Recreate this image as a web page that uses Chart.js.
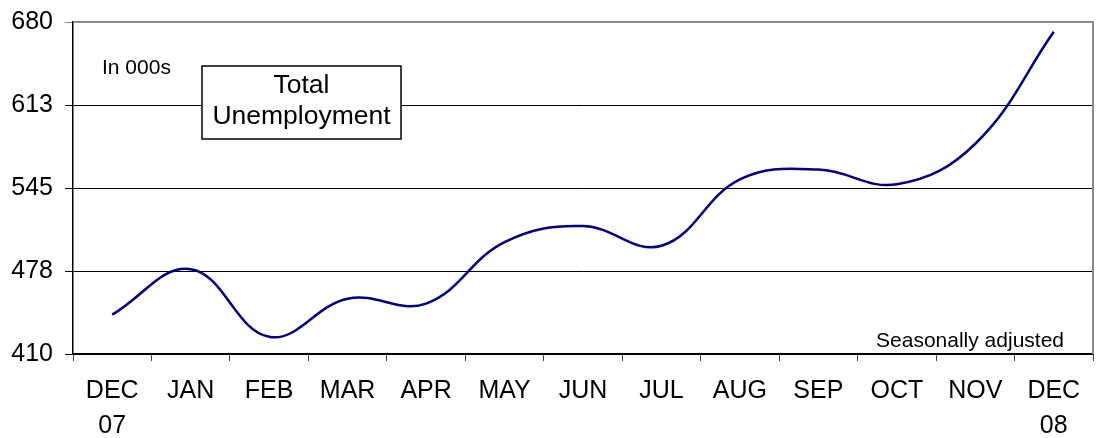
<!DOCTYPE html>
<html>
<head>
<meta charset="utf-8">
<script src="https://cdn.jsdelivr.net/npm/chart.js@4"></script>
<style>
  html, body { margin: 0; padding: 0; background: #ffffff; overflow: hidden; }
</style>
</head>
<body>
<canvas id="paro" width="1096" height="438"></canvas>
<script>
// datos (miles de personas)
const meses = [['DEC', '07'], 'JAN', 'FEB', 'MAR', 'APR', 'MAY', 'JUN', 'JUL', 'AUG', 'SEP', 'OCT', 'NOV', ['DEC', '08']];
const desempleo = [442, 479, 424, 455, 451, 501, 514, 498, 552, 560, 548, 581, 672];
const ejeMin = 410;
const ejeMax = 680;
const paso = 67.5;

const fuente = 'Liberation Sans, Arial, sans-serif';

// textos sueltos y borde gris de arriba/derecha
const extras = {
    id: 'extras',
    afterDraw(chart) {
        const c = chart.ctx;
        const a = chart.chartArea;
        c.save();
        c.strokeStyle = '#8a8a8a';
        c.lineWidth = 2;
        c.beginPath();
        c.moveTo(a.left, a.top);
        c.lineTo(a.right, a.top);
        c.lineTo(a.right, a.bottom);
        c.stroke();

        c.fillStyle = '#000';
        c.textBaseline = 'middle';
        c.font = '21px ' + fuente;
        c.textAlign = 'left';
        c.fillText('In 000s', 102, 68);
        c.textAlign = 'right';
        c.fillText('Seasonally adjusted', 1064, 341);

        // caja del titulo
        c.strokeStyle = '#000';
        c.lineWidth = 1.5;
        c.fillStyle = '#fff';
        c.fillRect(202, 66, 199, 73);
        c.strokeRect(202, 66, 199, 73);
        c.fillStyle = '#000';
        c.textAlign = 'center';
        c.font = '26.5px ' + fuente;
        c.fillText('Total', 301.5, 86);
        c.fillText('Unemployment', 301.5, 117);
        c.restore();
    }
};

const ctx = document.getElementById('paro');
new Chart(ctx, {
    type: 'line',
    data: {
        labels: meses,
        datasets: [{
            label: 'Total Unemployment',
            data: desempleo,
            borderColor: '#000080',
            borderWidth: 2.5,
            pointRadius: 0,
            tension: 0.4,
            fill: false
        }]
    },
    options: {
        responsive: false,
        animation: false,
        devicePixelRatio: 1,
        layout: { padding: { top: 22, right: 3, left: 0, bottom: 0 } },
        plugins: {
            legend: { display: false },
            tooltip: { enabled: false }
        },
        scales: {
            x: {
                offset: true,
                grid: {
                    display: true,
                    drawOnChartArea: false,
                    offset: true,
                    tickLength: 7,
                    color: '#444'
                },
                border: { color: '#000', width: 1.5 },
                ticks: {
                    color: '#000',
                    font: { family: fuente, size: 25, lineHeight: 1.38 },
                    padding: 13,
                    maxRotation: 0,
                    autoSkip: false
                },
                afterFit(scale) {
                    scale.height = 84;
                    scale.paddingLeft = 0;
                    scale.paddingRight = 0;
                }
            },
            y: {
                min: ejeMin,
                max: ejeMax,
                grid: {
                    color: (c) => c.tick && c.tick.value === ejeMax ? '#8a8a8a' : '#000',
                    tickLength: 8,
                    lineWidth: 1
                },
                border: { color: '#000', width: 1.5 },
                ticks: {
                    stepSize: paso,
                    color: '#000',
                    padding: 12,
                    font: { family: fuente, size: 25 },
                    callback: (v) => Math.round(v)
                },
                afterFit(scale) {
                    scale.width = 73;
                    scale.paddingTop = 0;
                    scale.paddingBottom = 0;
                }
            }
        }
    },
    plugins: [extras]
});
</script>
</body>
</html>
